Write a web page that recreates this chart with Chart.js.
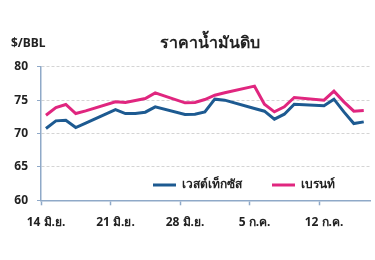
<!DOCTYPE html>
<html>
<head>
<meta charset="utf-8">
<script src="https://cdn.jsdelivr.net/npm/chart.js@4"></script>
<style>
  body { margin: 0; background: #fff; }
  #wrap { position: relative; width: 375px; height: 260px; }
</style>
</head>
<body>
<div id="wrap"><canvas id="oilChart" width="375" height="260"></canvas></div>
<script>
// days counted from 14 Jun (trading days only)
const tradeDays = [0, 1, 2, 3, 4, 7, 8, 9, 10, 11, 14, 15, 16, 17, 18, 21, 22, 23, 24, 25, 28, 29, 30, 31, 32];
const wti = [70.75, 71.9, 72.0, 70.9, 71.55, 73.6, 73.0, 73.0, 73.2, 74.0, 72.85, 72.9, 73.25, 75.15, 75.0, 73.75, 73.35, 72.15, 72.9, 74.4, 74.15, 75.15, 73.25, 71.5, 71.75];
const brent = [72.75, 73.9, 74.35, 73.0, 73.4, 74.75, 74.65, 74.95, 75.25, 76.1, 74.6, 74.65, 75.1, 75.75, 76.1, 77.1, 74.4, 73.25, 74.0, 75.4, 75.0, 76.35, 74.75, 73.35, 73.45];
const tickDays = [0, 7, 14, 21, 28];
const tickLabels = ["14 มิ.ย.", "21 มิ.ย.", "28 มิ.ย.", "5 ก.ค.", "12 ก.ค."];

const axisColor = "#8fa9c8";
const fontFamily = "'Noto Sans', 'DejaVu Sans', sans-serif";

Chart.defaults.font.family = fontFamily;
Chart.defaults.font.weight = "bold";
Chart.defaults.color = "#222";

// legend sits inside the plot, bottom right; it takes no layout space
const moveLegend = {
  id: "moveLegend",
  beforeLayout(chart) {
    const lg = chart.legend;
    if (!lg._patched) {
      const fit = lg.fit.bind(lg);
      lg.fit = function () {
        fit();
        this._realH = this.height;
        this.height = 0;
      };
      lg._patched = true;
    }
  },
  afterLayout(chart) {
    const lg = chart.legend;
    lg.top = 186 - lg.options.labels.padding - 7;
    lg.height = lg._realH;
    lg.bottom = lg.top + lg._realH;
    lg.left += 59;
    lg.right += 59;
    const t = chart.titleBlock;
    t.left += 25;
    t.right += 25;
  }
};

const unitLabel = {
  id: "unitLabel",
  afterDraw(chart) {
    const c = chart.ctx;
    c.save();
    c.font = "bold 12px " + fontFamily;
    c.fillStyle = "#222";
    c.textBaseline = "middle";
    c.fillText("$/BBL", 11, 44);
    c.restore();
  }
};

const ctx = document.getElementById("oilChart").getContext("2d");
const chart = new Chart(ctx, {
  type: "line",
  data: {
    datasets: [
      {
        label: "เวสต์เท็กซัส",
        data: tradeDays.map((d, i) => ({ x: d, y: wti[i] })),
        borderColor: "#1d5a91",
        backgroundColor: "#1d5a91",
        borderWidth: 3,
        pointRadius: 0,
        tension: 0
      },
      {
        label: "เบรนท์",
        data: tradeDays.map((d, i) => ({ x: d, y: brent[i] })),
        borderColor: "#e0267f",
        backgroundColor: "#e0267f",
        borderWidth: 3,
        pointRadius: 0,
        tension: 0
      }
    ]
  },
  options: {
    responsive: false,
    animation: false,
    layout: { padding: { left: 0, right: 5, top: 0, bottom: 0 } },
    plugins: {
      title: {
        display: true,
        text: "ราคาน้ำมันดิบ",
        font: { size: 16, weight: "bold" },
        color: "#222",
        padding: { top: 34, bottom: 13.6 }
      },
      legend: {
        position: "bottom",
        labels: {
          usePointStyle: true,
          pointStyle: "line",
          pointStyleWidth: 23,
          font: { size: 12, weight: "bold" },
          color: "#222",
          padding: 30
        }
      },
      tooltip: { enabled: false }
    },
    scales: {
      x: {
        type: "linear",
        min: -0.5,
        max: 32.63,
        afterBuildTicks: (scale) => {
          scale.ticks = tickDays.map(d => ({ value: d - 0.5 }));
        },
        afterFit: (scale) => {
          scale.height = 59.7;
        },
        ticks: {
          callback: (value, index) => tickLabels[index],
          labelOffset: 5,
          padding: 10,
          maxRotation: 0,
          autoSkip: false,
          font: { size: 12, weight: "bold" },
          color: "#222"
        },
        grid: {
          drawOnChartArea: false,
          tickLength: 5,
          tickColor: axisColor,
          tickWidth: 1.5
        },
        border: { color: axisColor, width: 1.5 }
      },
      y: {
        min: 60,
        max: 80,
        afterFit: (scale) => { scale.width = 41; },
        ticks: {
          stepSize: 5,
          padding: 9,
          font: { size: 12, weight: "bold" },
          color: "#222"
        },
        grid: {
          color: (c) => c.tick && c.tick.value === 60 ? "rgba(0,0,0,0)" : "#d4d4d4",
          tickColor: axisColor,
          tickLength: 4
        },
        border: { color: axisColor, width: 1.5, dash: [3, 2] }
      }
    }
  },
  plugins: [moveLegend, unitLabel]
});
</script>
</body>
</html>
